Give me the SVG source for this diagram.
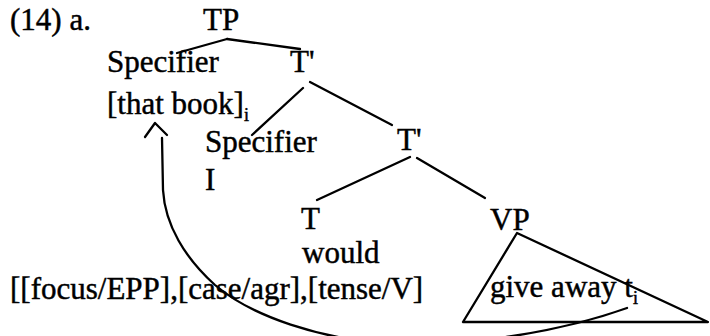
<svg xmlns="http://www.w3.org/2000/svg" width="710" height="336" viewBox="0 0 710 336">
<style>
text{font-family:"Liberation Serif","Times New Roman",serif;font-size:31px;fill:#000;stroke:#000;stroke-width:0.45}
.sub{font-size:18px}
.ln{stroke:#000;stroke-width:2.3;fill:none;stroke-linecap:round;stroke-linejoin:round}
</style>
<rect width="710" height="336" fill="#fff"/>
<g id="label"><text x="10" y="30">(14) a.</text></g>
<g id="TP"><text x="203" y="30">TP</text></g>
<g id="Spec1"><text x="107" y="72">Specifier</text><text x="107" y="114">[that book]<tspan class="sub" dy="7">i</tspan></text></g>
<g id="Tbar1"><text x="290" y="72">T'</text></g>
<g id="Spec2"><text x="205" y="152">Specifier</text><text x="205" y="190">I</text></g>
<g id="Tbar2"><text x="397" y="150">T'</text></g>
<g id="T"><text x="301" y="229">T</text><text x="302" y="263">would</text><text x="10" y="299">[[focus/EPP],[case/agr],[tense/V]</text></g>
<g id="VP"><text x="490" y="230">VP</text><polygon class="ln" points="517,233 463,322 708,322"/><text x="490" y="297">give away t<tspan class="sub" dy="7">i</tspan></text></g>
<g id="connectors">
<line class="ln" x1="227" y1="39" x2="177" y2="53"/>
<line class="ln" x1="227" y1="39" x2="300" y2="49"/>
<line class="ln" x1="303" y1="88" x2="252" y2="135"/>
<line class="ln" x1="310" y1="82" x2="392" y2="125"/>
<line class="ln" x1="410" y1="157" x2="317" y2="200"/>
<line class="ln" x1="417" y1="158" x2="485" y2="198"/>
<path class="ln" d="M627,308 C560,332 470,346 400,344 C320,341 250,315 215,285 C185,258 165,225 163,190 L162,138"/>
<polyline class="ln" points="145,137 155,123 167,135"/>
</g>
</svg>
